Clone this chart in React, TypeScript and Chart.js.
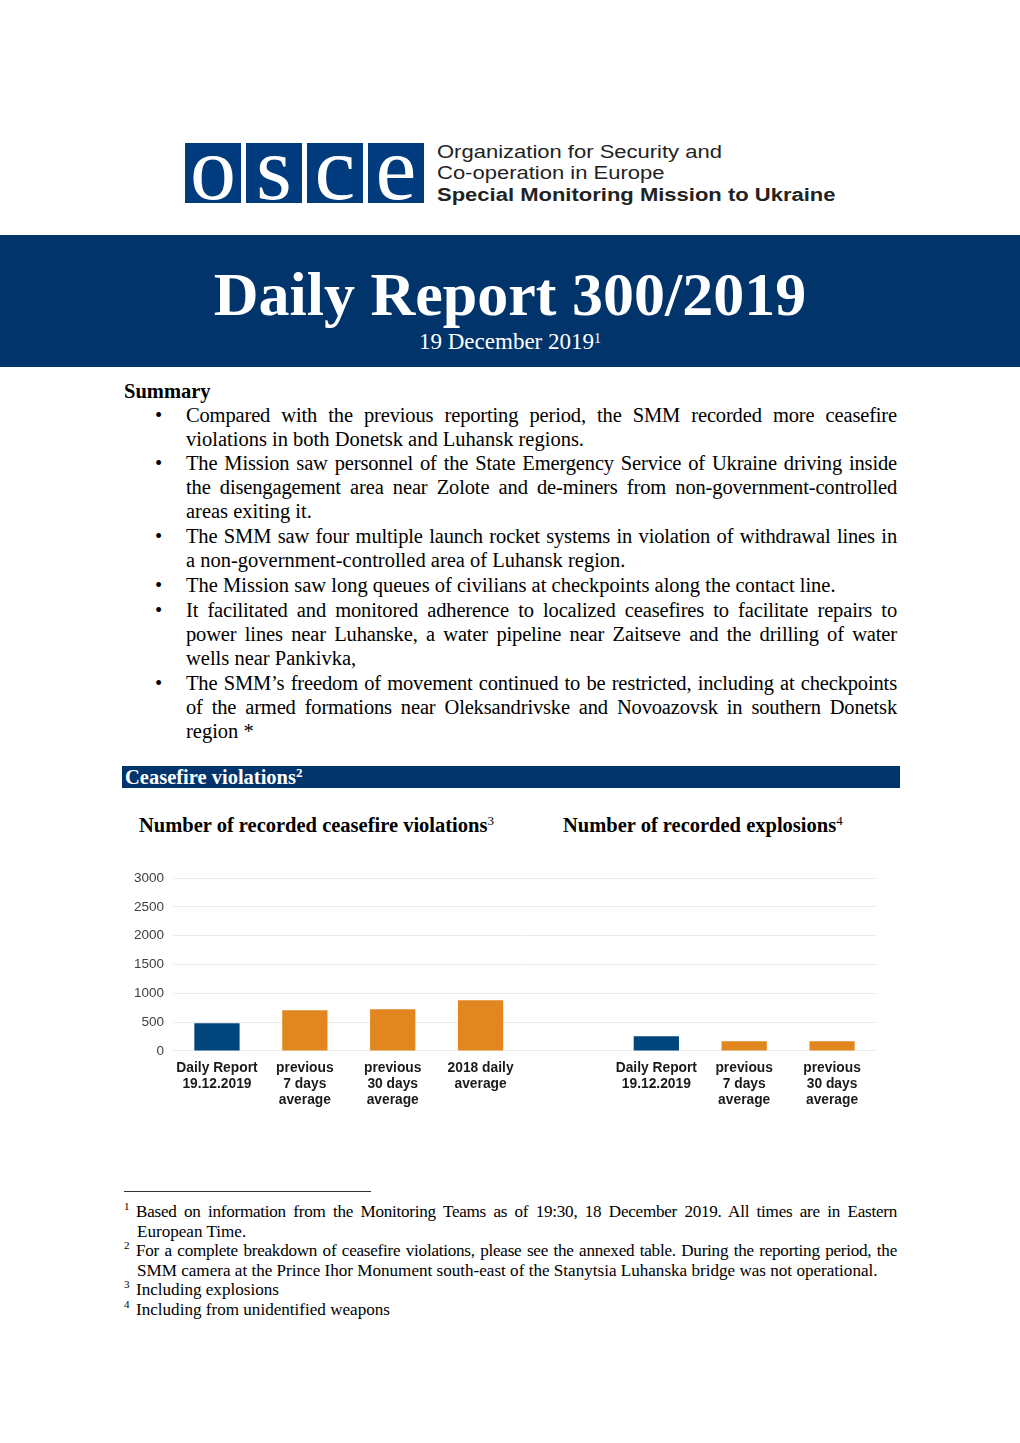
import React, { useEffect, useRef } from "react";
import { Chart, registerables } from "chart.js";

Chart.register(...registerables);

// ---- data ----
const violationCategories: string[][] = [
  ["Daily Report", "19.12.2019"],
  ["previous", "7 days", "average"],
  ["previous", "30 days", "average"],
  ["2018 daily", "average"],
];
const violationValues: number[] = [480, 705, 725, 880];

const explosionCategories: string[][] = [
  ["Daily Report", "19.12.2019"],
  ["previous", "7 days", "average"],
  ["previous", "30 days", "average"],
];
const explosionValues: number[] = [255, 170, 170];

const yTicks: number[] = [0, 500, 1000, 1500, 2000, 2500, 3000];

const DAILY_COLOR = "#00457c";
const AVG_COLOR = "#e2861f";

const SERIF = '"Liberation Serif", "Times New Roman", serif';
const SANS = '"Liberation Sans", Arial, sans-serif';
const BODY = 20.5;

const summaryLines: { y: number; text: string; bullet?: boolean; last?: boolean }[] = [
  { y: 415, text: "Compared with the previous reporting period, the SMM recorded more ceasefire", bullet: true },
  { y: 439, text: "violations in both Donetsk and Luhansk regions.", last: true },
  { y: 463, text: "The Mission saw personnel of the State Emergency Service of Ukraine driving inside", bullet: true },
  { y: 487, text: "the disengagement area near Zolote and de-miners from non-government-controlled" },
  { y: 511, text: "areas exiting it.", last: true },
  { y: 536, text: "The SMM saw four multiple launch rocket systems in violation of withdrawal lines in", bullet: true },
  { y: 560, text: "a non-government-controlled area of Luhansk region.", last: true },
  { y: 585, text: "The Mission saw long queues of civilians at checkpoints along the contact line.", bullet: true, last: true },
  { y: 610, text: "It facilitated and monitored adherence to localized ceasefires to facilitate repairs to", bullet: true },
  { y: 634, text: "power lines near Luhanske, a water pipeline near Zaitseve and the drilling of water" },
  { y: 658, text: "wells near Pankivka,", last: true },
  { y: 683, text: "The SMM\u2019s freedom of movement continued to be restricted, including at checkpoints", bullet: true },
  { y: 707, text: "of the armed formations near Oleksandrivske and Novoazovsk in southern Donetsk" },
  { y: 731, text: "region *", last: true },
];

const footLines: { y: number; sup?: string; text: string; last?: boolean }[] = [
  { y: 1212, sup: "1", text: "Based on information from the Monitoring Teams as of 19:30, 18 December 2019. All times are in Eastern" },
  { y: 1232, text: "European Time.", last: true },
  { y: 1251, sup: "2", text: "For a complete breakdown of ceasefire violations, please see the annexed table. During the reporting period, the" },
  { y: 1271, text: "SMM camera at the Prince Ihor Monument south-east of the Stanytsia Luhanska bridge was not operational.", last: true },
  { y: 1290, sup: "3", text: "Including explosions", last: true },
  { y: 1310, sup: "4", text: "Including from unidentified weapons", last: true },
];

const logoLetters: string[] = ["o", "s", "c", "e"];
const logoLines: { top: number; text: string; bold?: boolean }[] = [
  { top: 142.5, text: "Organization for Security and" },
  { top: 163.5, text: "Co-operation in Europe" },
  { top: 186, text: "Special Monitoring Mission to Ukraine", bold: true },
];

function BarChart() {
  const ref = useRef<HTMLCanvasElement | null>(null);
  useEffect(() => {
    if (!ref.current) return;
    const labels: (string | string[])[] = [...violationCategories, "", ...explosionCategories];
    const values: (number | null)[] = [...violationValues, null, ...explosionValues];
    const colors: string[] = labels.map((l) =>
      Array.isArray(l) && l[0] === "Daily Report" ? DAILY_COLOR : AVG_COLOR
    );
    const chart = new Chart(ref.current, {
      type: "bar",
      data: {
        labels,
        datasets: [
          {
            data: values,
            backgroundColor: colors,
            borderWidth: 0,
            barPercentage: 1,
            categoryPercentage: 0.515,
          },
        ],
      },
      options: {
        animation: false,
        responsive: false,
        maintainAspectRatio: false,
        layout: { padding: { left: 20, right: 24, top: 22, bottom: 9 } },
        plugins: { legend: { display: false }, tooltip: { enabled: false } },
        scales: {
          x: {
            grid: { display: false, drawTicks: false },
            border: { display: false },
            ticks: {
              maxRotation: 0,
              autoSkip: false,
              padding: 9,
              color: "#1a1a1a",
              font: { family: SANS, size: 13.8, weight: "bold", lineHeight: 1.16 },
            },
          },
          y: {
            min: 0,
            max: 3000,
            afterBuildTicks: (axis: any) => {
              axis.ticks = yTicks.map((v) => ({ value: v }));
            },
            grid: { color: "#ebebeb", drawTicks: false, lineWidth: 1 },
            border: { display: false },
            ticks: {
              padding: 9,
              color: "#404040",
              font: { family: SANS, size: 13.5 },
              callback: (v: any) => String(v),
            },
          },
        },
      },
    });
    return () => chart.destroy();
  }, []);
  return (
    <canvas
      ref={ref}
      width={795}
      height={270}
      style={{ position: "absolute", left: 105, top: 856, width: 795, height: 270 }}
    />
  );
}

export default function App() {
  useEffect(() => {
    document.body.style.margin = "0";
  }, []);
  const navy = "#01346b";
  const logoBlue = "#003b7d";
  return (
    <div
      style={{
        position: "absolute",
        left: 0,
        top: 0,
        width: 1020,
        height: 1443,
        overflow: "hidden",
        background: "#fff",
        fontFamily: SERIF,
        color: "#000",
      }}
    >
      {/* logo */}
      {logoLetters.map((ch, i) => (
        <div
          key={ch}
          style={{
            position: "absolute",
            left: 185 + i * 61,
            top: 143,
            width: 56,
            height: 60,
            background: logoBlue,
          }}
        />
      ))}
      {logoLetters.map((ch, i) => (
        <div
          key={"t" + ch}
          style={{
            position: "absolute",
            left: 185 + i * 61,
            top: 113,
            width: 56,
            color: "#fff",
            fontFamily: SERIF,
            fontSize: 92,
            lineHeight: "110px",
            textAlign: "center",
          }}
        >
          {ch}
        </div>
      ))}
      {logoLines.map((l, i) => (
        <div
          key={"l" + i}
          style={{
            position: "absolute",
            left: 437,
            top: l.top,
            fontFamily: SANS,
            fontSize: 22,
            lineHeight: "22px",
            color: "#222",
            fontWeight: l.bold ? "bold" : "normal",
            whiteSpace: "nowrap",
            transform: "scaleY(0.85)",
            transformOrigin: "left top",
          }}
        >
          {l.text}
        </div>
      ))}

      {/* banner */}
      <div style={{ position: "absolute", left: 0, top: 235, width: 1020, height: 132, background: navy }} />
      <div
        style={{
          position: "absolute",
          left: 0,
          width: 1020,
          top: 258,
          textAlign: "center",
          color: "#fff",
          fontWeight: "bold",
          fontSize: 62,
          lineHeight: "72px",
          whiteSpace: "nowrap",
        }}
      >
        Daily Report 300/2019
      </div>
      <div
        style={{
          position: "absolute",
          left: 0,
          width: 1020,
          top: 328,
          textAlign: "center",
          color: "#fff",
          fontSize: 23,
          lineHeight: "28px",
          whiteSpace: "nowrap",
        }}
      >
        19 December 2019<sup style={{ fontSize: 14, verticalAlign: "top", position: "relative", top: -3 }}>1</sup>
      </div>

      {/* summary */}
      <div style={{ position: "absolute", left: 124, top: 379, fontSize: BODY, lineHeight: "24px", fontWeight: "bold" }}>Summary</div>
      {summaryLines.map((l, i) => (
        <React.Fragment key={i}>
          {l.bullet && (
            <div style={{ position: "absolute", left: 155, top: l.y - 12, fontSize: BODY, lineHeight: "24px" }}>{"\u2022"}</div>
          )}
          <div
            style={{
              position: "absolute",
              left: 186,
              width: 711,
              top: l.y - 12,
              fontSize: BODY,
              lineHeight: "24px",
              textAlign: "justify",
              textAlignLast: l.last ? "left" : "justify",
              whiteSpace: l.last ? "nowrap" : "normal",
              letterSpacing: l.last ? 0 : -0.15,
            } as React.CSSProperties}
          >
            {l.text}
          </div>
        </React.Fragment>
      ))}

      {/* section header */}
      <div style={{ position: "absolute", left: 122, top: 766, width: 778, height: 22, background: navy }} />
      <div style={{ position: "absolute", left: 125, top: 765, lineHeight: "24px", color: "#fff", fontWeight: "bold", fontSize: BODY, whiteSpace: "nowrap" }}>
        Ceasefire violations<sup style={{ fontSize: 13, verticalAlign: "top", position: "relative", top: -4 }}>2</sup>
      </div>

      {/* chart titles */}
      <div style={{ position: "absolute", left: 139, top: 813, fontWeight: "bold", fontSize: BODY, lineHeight: "24px", whiteSpace: "nowrap" }}>
        Number of recorded ceasefire violations<sup style={{ fontSize: 13, fontWeight: "normal", verticalAlign: "top", position: "relative", top: -4 }}>3</sup>
      </div>
      <div style={{ position: "absolute", left: 563, top: 813, fontWeight: "bold", fontSize: BODY, lineHeight: "24px", whiteSpace: "nowrap" }}>
        Number of recorded explosions<sup style={{ fontSize: 13, fontWeight: "normal", verticalAlign: "top", position: "relative", top: -4 }}>4</sup>
      </div>

      <BarChart />

      {/* footnotes */}
      <div style={{ position: "absolute", left: 124, top: 1191, width: 247, height: 1, background: "#333" }} />
      {footLines.map((l, i) => (
        <React.Fragment key={i}>
          {l.sup && (
            <div style={{ position: "absolute", left: 124, top: l.y - 14, fontSize: 11, lineHeight: "16px" }}>{l.sup}</div>
          )}
          <div
            style={{
              position: "absolute",
              left: l.sup ? 136 : 137,
              width: 897 - (l.sup ? 136 : 137),
              top: l.y - 10,
              fontSize: 17.1,
              lineHeight: "20px",
              textAlign: "justify",
              textAlignLast: l.last ? "left" : "justify",
              whiteSpace: l.last ? "nowrap" : "normal",
              letterSpacing: l.last ? 0 : -0.25,
            } as React.CSSProperties}
          >
            {l.text}
          </div>
        </React.Fragment>
      ))}
    </div>
  );
}
